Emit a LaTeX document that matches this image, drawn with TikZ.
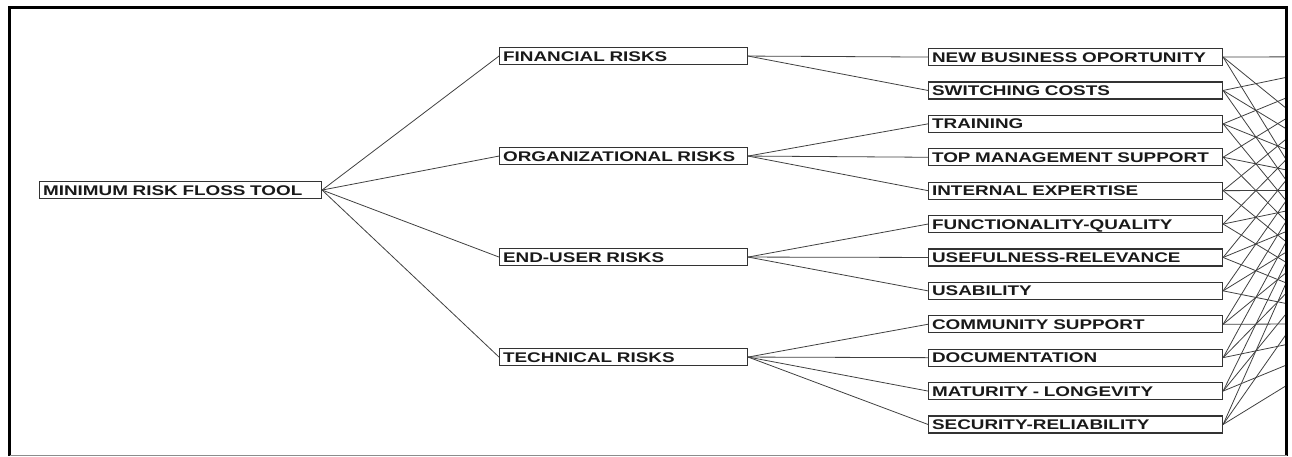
\documentclass[tikz,border=0pt]{standalone}
\usepackage{fontspec}
\newfontfamily\lbl{Liberation Sans Bold}[FakeStretch=1.35]
\begin{document}
\begin{tikzpicture}[x=1pt,y=-1pt,
  box/.style={draw=black!80, line width=1.1pt, anchor=north west, minimum height=17pt,
    inner xsep=3.5pt, inner ysep=0pt, align=left, text height=10pt, text depth=0pt,
    font=\lbl\fontsize{14}{15}\selectfont, text=black!90},
  rootbox/.style={box, text width=275pt},
  midbox/.style={box, text width=241pt},
  leafbox/.style={box, text width=287pt},
  conn/.style={draw=black!75, line width=0.8pt},
  frameline/.style={line width=3pt, draw=black}]
\useasboundingbox (0,0) rectangle (1292,456);

% nodes
\node[rootbox] (root) at (39,181) {MINIMUM RISK FLOSS TOOL};

\node[midbox] (fin)  at (499,47)  {FINANCIAL RISKS};
\node[midbox] (org)  at (499,147) {ORGANIZATIONAL RISKS};
\node[midbox] (endu) at (499,248) {END-USER RISKS};
\node[midbox] (tech) at (499,348) {TECHNICAL RISKS};

\node[leafbox] (nb)   at (928,48)    {NEW BUSINESS OPORTUNITY};
\node[leafbox] (sw)   at (928,81.4)  {SWITCHING COSTS};
\node[leafbox] (tr)   at (928,114.8) {TRAINING};
\node[leafbox] (tm)   at (928,148.2) {TOP MANAGEMENT SUPPORT};
\node[leafbox] (ie)   at (928,181.6) {INTERNAL EXPERTISE};
\node[leafbox] (fq)   at (928,215)   {FUNCTIONALITY-QUALITY};
\node[leafbox] (ur)   at (928,248.4) {USEFULNESS-RELEVANCE};
\node[leafbox] (us)   at (928,281.8) {USABILITY};
\node[leafbox] (cs)   at (928,315.2) {COMMUNITY SUPPORT};
\node[leafbox] (doc)  at (928,348.6) {DOCUMENTATION};
\node[leafbox] (mat)  at (928,382)   {MATURITY - LONGEVITY};
\node[leafbox] (sec)  at (928,415.4) {SECURITY-RELIABILITY};

% connectors
\foreach \m in {fin,org,endu,tech} \draw[conn] (root.east) -- (\m.west);
\foreach \l in {nb,sw} \draw[conn] (fin.east) -- (\l.west);
\foreach \l in {tr,tm,ie} \draw[conn] (org.east) -- (\l.west);
\foreach \l in {fq,ur,us} \draw[conn] (endu.east) -- (\l.west);
\foreach \l in {cs,doc,mat,sec} \draw[conn] (tech.east) -- (\l.west);

% off-picture targets
\coordinate (t1) at (1387,56.5);
\coordinate (t2) at (1387,190.1);
\coordinate (t3) at (1387,323.7);
\begin{scope}
  \clip (0,0) rectangle (1285,456);
  \foreach \l in {nb,sw,tr,tm,ie,fq,ur,us,cs,doc,mat,sec}
    \foreach \t in {t1,t2,t3}
      \draw[conn] (\l.east) -- (\t);
\end{scope}

% frame
\draw[frameline] (9.5,456) -- (9.5,7.5) -- (1286.5,7.5) -- (1286.5,456);
\draw[draw=black!45, line width=1pt] (9.5,455) -- (1286.5,455);
\end{tikzpicture}
\end{document}
